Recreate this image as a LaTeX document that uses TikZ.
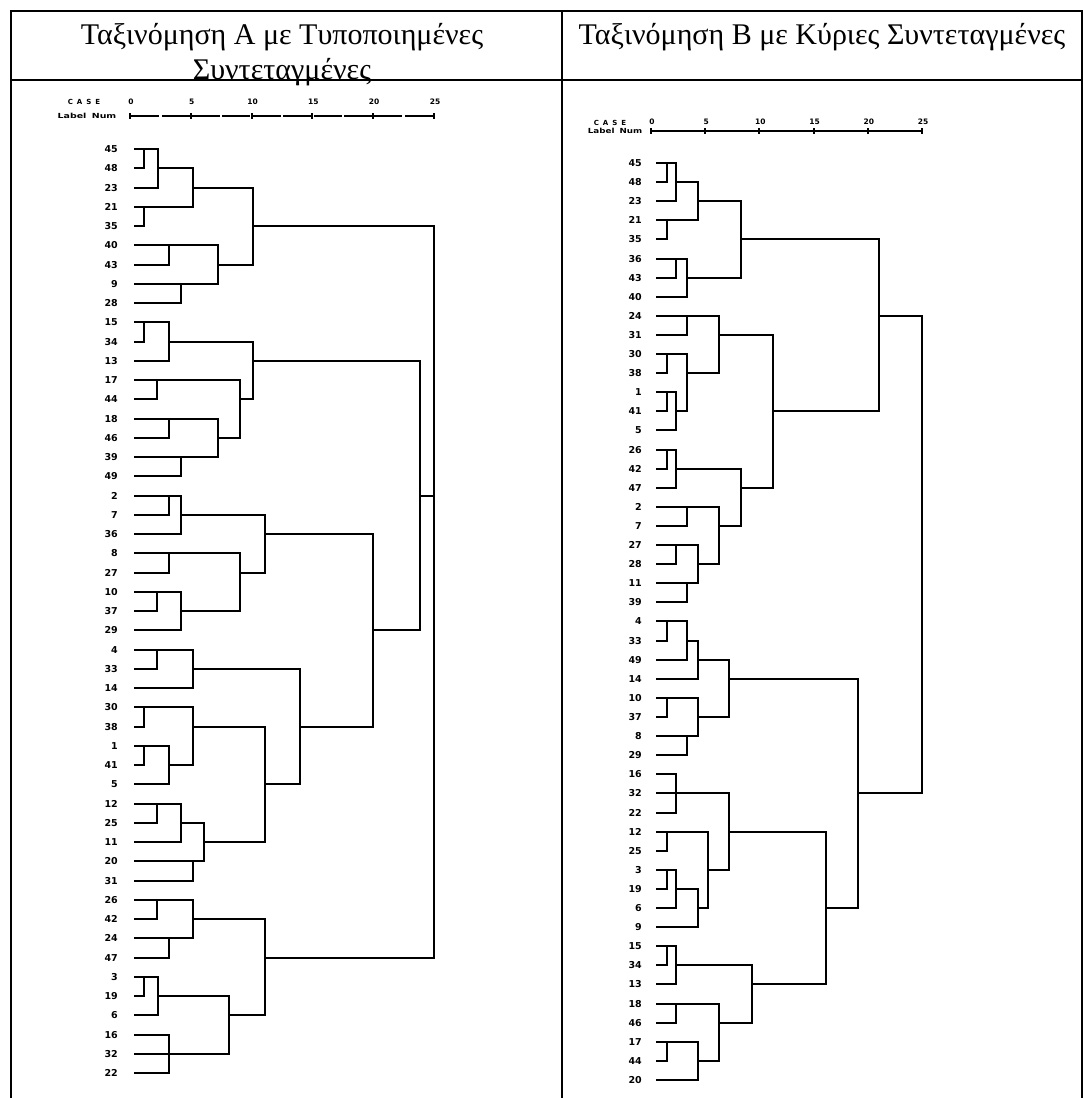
\documentclass[tikz,border=0pt]{standalone}
\usepackage{fontspec}
\setmainfont{Liberation Serif}
\newfontfamily\labfont{DejaVu Sans}
\begin{document}
\begin{tikzpicture}[x=1pt,y=-1pt,
  dl/.style={line width=1.8pt, line join=miter},
  frame/.style={line width=2pt},
  lab/.style={font=\labfont\bfseries\fontsize{9.5}{9.5}\selectfont, anchor=east, inner sep=0pt},
  axnum/.style={font=\labfont\bfseries\fontsize{7.5}{7.5}\selectfont, inner sep=0pt},
  axlab/.style={font=\labfont\bfseries\fontsize{7}{7}\selectfont, inner sep=0pt},
  title/.style={font=\fontsize{30}{30}\selectfont, inner sep=0pt, anchor=base}]
\useasboundingbox (0,0) rectangle (1083,1098);
% table frame
\draw[frame] (11,1098) -- (11,11) -- (1082,11) -- (1082,1098);
\draw[frame] (11,80) -- (1082,80);
\draw[frame] (562,11) -- (562,1098);
% titles
\node[title] (t1) at (282,44) {Ταξινόμηση Α με Τυποποιημένες};
\node[title] (t2) at (282,79) {Συντεταγμένες};
\node[title] (t3) at (822,44) {Ταξινόμηση Β με Κύριες Συντεταγμένες};
% ---------- left axis ----------
\node[axlab] (caseA) at (84,102) {C\hspace{4pt}A\hspace{4pt}S\hspace{4pt}E};
\node[axlab] (lnA) at (87,116) {\scalebox{1.35}[1]{Label\hspace{4pt}Num}};
\foreach \v [count=\i from 0] in {0,5,10,15,20,25}{
  \node[axnum] (nA\v) at ({131+\i*60.8},102) {\v};
  \draw[line width=1.5pt] ({round(130+\i*60.8)},113) -- ({round(130+\i*60.8)},119);
}
\foreach \i in {0,...,9}{
  \draw[line width=2pt] ({130+\i*30.4+1.2},116) -- ({130+(\i+1)*30.4-1.2},116);
}
% ---------- right axis ----------
\node[axlab] (caseB) at (610,123) {C\hspace{4pt}A\hspace{4pt}S\hspace{4pt}E};
\node[axlab] (lnB) at (615,131) {\scalebox{1.25}[1]{Label\hspace{4pt}Num}};
\foreach \v [count=\i from 0] in {0,5,10,15,20,25}{
  \node[axnum] (nB\v) at ({652+\i*54.2},122) {\v};
  \draw[line width=1.5pt] ({round(651+\i*54.2)},128) -- ({round(651+\i*54.2)},134);
}
\draw[line width=2pt] (651,131) -- (922,131);
% ---------- left leaves ----------
\foreach \n [count=\i from 0] in {45,48,23,21,35,40,43,9,28,15,34,13,17,44,18,46,39,49,2,7,36,8,27,10,37,29,4,33,14,30,38,1,41,5,12,25,11,20,31,26,42,24,47,3,19,6,16,32,22}{
  \node[lab] (tA\n) at (118,{round(149+\i*19.25)}) {\n};
  \coordinate (A\n) at (134,{round(149+\i*19.25)});
}
% ---------- right leaves ----------
\foreach \n [count=\i from 0] in {45,48,23,21,35,36,43,40,24,31,30,38,1,41,5,26,42,47,2,7,27,28,11,39,4,33,49,14,10,37,8,29,16,32,22,12,25,3,19,6,9,15,34,13,18,46,17,44,20}{
  \node[lab] (tB\n) at (642,{round(163+\i*19.104)}) {\n};
  \coordinate (B\n) at (656,{round(163+\i*19.104)});
}
% ---------- left merges ----------
\foreach \m/\a/\b/\x/\r in {
 a1/A45/A48/144/0, a2/a1/A23/158/1, a3/A21/A35/144/3, a4/a2/a3/193/2,
 a5/A40/A43/169/5, a6/A9/A28/181/7, a7/a5/a6/218/6, a8/a4/a7/253/4,
 a9/A15/A34/144/9, a10/a9/A13/169/10, a11/A17/A44/157/12, a12/A18/A46/169/14,
 a13/A39/A49/181/16, a14/a12/a13/218/15, a15/a11/a14/240/13, a16/a10/a15/253/11,
 a17/A2/A7/169/18, a18/a17/A36/181/19, a19/A8/A27/169/21, a20/A10/A37/157/23,
 a21/a20/A29/181/24, a22/a19/a21/240/22, a23/a18/a22/265/20,
 a24/A4/A33/157/26, a25/a24/A14/193/27, a26/A30/A38/144/29, a27/A1/A41/144/31,
 a28/a27/A5/169/32, a29/a26/a28/193/30, a30/A12/A25/157/34, a31/a30/A11/181/35,
 a32/A20/A31/193/37, a33/a31/a32/204/36, a34/a29/a33/265/33, a35/a25/a34/300/30,
 a36/a23/a35/373/25, a37/a16/a36/420/18,
 a38/A26/A42/157/39, a39/A24/A47/169/41, a40/a38/a39/193/40, a41/A3/A19/144/43,
 a42/a41/A6/158/44, a43/A16/A32/169/46, a44/a43/A22/169/47, a45/a42/a44/229/45,
 a46/a40/a45/265/42, a47/a8/a37/434/11, a48/a47/a46/434/26}{
  \coordinate (\m) at (\x,{round(149+\r*19.25)});
  \draw[dl] (\a) -- (\a -| \m) -- (\b -| \m) -- (\b);
}
% ---------- right merges ----------
\foreach \m/\a/\b/\x/\r in {
 b1/B45/B48/667/0, b2/b1/B23/676/1, b3/B21/B35/667/3, b4/b2/b3/698/2,
 b5/B36/B43/676/5, b6/b5/B40/687/6, b7/b4/b6/741/4,
 b8/B24/B31/687/8, b9/B30/B38/667/10, b10/B1/B41/667/12, b11/b10/B5/676/13,
 b12/b9/b11/687/11, b13/b8/b12/719/9, b14/B26/B42/667/15, b15/b14/B47/676/16,
 b16/B2/B7/687/18, b17/B27/B28/676/20, b18/B11/B39/687/22, b19/b17/b18/698/21,
 b20/b16/b19/719/19, b21/b15/b20/741/17, b22/b13/b21/773/13, b23/b7/b22/879/8,
 b24/B4/B33/667/24, b25/b24/B49/687/25, b26/b25/B14/698/26, b27/B10/B37/667/28,
 b28/B8/B29/687/30, b29/b27/b28/698/29, b30/b26/b29/729/27,
 b31/B16/B32/676/32, b32/b31/B22/676/33, b33/B12/B25/667/35, b34/B3/B19/667/37,
 b35/b34/B6/676/38, b36/b35/B9/698/39, b37/b33/b36/708/37, b38/b32/b37/729/35,
 b39/B15/B34/667/41, b40/b39/B13/676/42, b41/B18/B46/676/44, b42/B17/B44/667/46,
 b43/b42/B20/698/47, b44/b41/b43/719/45, b45/b40/b44/752/43, b46/b38/b45/826/39,
 b47/b30/b46/858/33, b48/b23/b47/922/20}{
  \coordinate (\m) at (\x,{round(163+\r*19.104)});
  \draw[dl] (\a) -- (\a -| \m) -- (\b -| \m) -- (\b);
}
\end{tikzpicture}
\end{document}
